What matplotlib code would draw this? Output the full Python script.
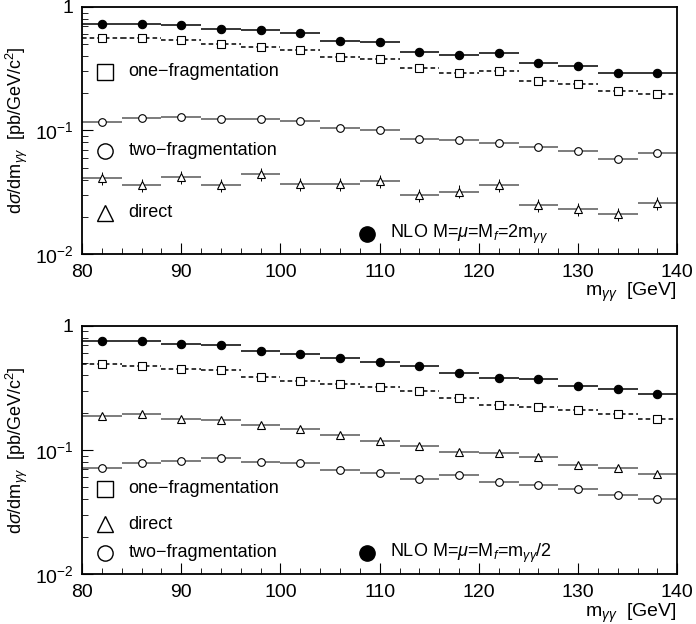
import numpy as np
import matplotlib.pyplot as plt
from matplotlib.ticker import FixedLocator, NullFormatter

plt.rcParams['font.family'] = ['Liberation Sans', 'DejaVu Sans']
plt.rcParams['mathtext.fontset'] = 'custom'
plt.rcParams['mathtext.rm'] = 'Liberation Sans'
plt.rcParams['mathtext.it'] = 'Liberation Sans:italic'

edges = np.arange(80, 141, 4)
centers = edges[:-1] + 2

# top panel: M = mu = M_f = 2 m_gg
top_nlo = [0.73, 0.73, 0.71, 0.66, 0.65, 0.61, 0.53, 0.52, 0.43, 0.41, 0.42, 0.35, 0.33, 0.29, 0.29]
top_one = [0.56, 0.56, 0.54, 0.50, 0.47, 0.45, 0.39, 0.38, 0.32, 0.29, 0.30, 0.25, 0.236, 0.21, 0.197]
top_two = [0.117, 0.127, 0.128, 0.124, 0.124, 0.119, 0.104, 0.101, 0.085, 0.084, 0.079, 0.074, 0.068, 0.059, 0.066]
top_dir = [0.041, 0.036, 0.042, 0.036, 0.044, 0.037, 0.037, 0.039, 0.030, 0.032, 0.036, 0.025, 0.023, 0.021, 0.026]

# bottom panel: M = mu = M_f = m_gg / 2
bot_nlo = [0.75, 0.75, 0.71, 0.70, 0.63, 0.59, 0.55, 0.51, 0.47, 0.42, 0.38, 0.37, 0.33, 0.31, 0.28]
bot_one = [0.49, 0.47, 0.45, 0.44, 0.39, 0.36, 0.34, 0.32, 0.30, 0.26, 0.23, 0.22, 0.21, 0.194, 0.178]
bot_dir = [0.189, 0.193, 0.178, 0.173, 0.158, 0.146, 0.133, 0.117, 0.108, 0.096, 0.094, 0.088, 0.075, 0.072, 0.064]
bot_two = [0.072, 0.079, 0.082, 0.086, 0.080, 0.079, 0.069, 0.065, 0.058, 0.063, 0.055, 0.052, 0.048, 0.043, 0.040]


def series(ax, vals, marker, mfc, ls, color, err):
    vals = np.asarray(vals)
    ax.hlines(vals, edges[:-1], edges[1:], colors=color, linestyles=ls, lw=1.1)
    ax.errorbar(centers, vals, yerr=vals * err, fmt='none', ecolor='black', elinewidth=0.7)
    ax.plot(centers, vals, marker, mfc=mfc, mec='black', ms=6 if marker == 'o' and mfc == 'black' else 5.5,
            mew=0.8, ls='none')


def legend_item(ax, x, y, marker, mfc, label):
    ax.plot([x], [y], marker, mfc=mfc, mec='black', ms=11, mew=1.0, transform=ax.transAxes, clip_on=False)
    ax.text(x + 0.040, y, label, transform=ax.transAxes, va='center', fontsize=13)


def style(ax):
    ax.set_yscale('log')
    ax.set_xlim(80, 140)
    ax.set_ylim(0.01, 1)
    ax.set_yticks([0.01, 0.1, 1])
    ax.set_yticklabels(['$10^{-2}$', '$10^{-1}$', '1'])
    ax.yaxis.set_minor_formatter(NullFormatter())
    ax.set_xticks([80, 90, 100, 110, 120, 130, 140])
    ax.xaxis.set_minor_locator(FixedLocator(np.arange(80, 141, 2)))
    ax.tick_params(axis='both', which='major', direction='in', length=8, labelsize=14, right=False, top=False)
    ax.tick_params(axis='x', which='major', pad=7)
    ax.tick_params(axis='y', which='major', pad=6)
    ax.tick_params(axis='both', which='minor', direction='in', length=4)
    for s in ax.spines.values():
        s.set_linewidth(1.3)
    ax.set_ylabel(r'd$\sigma$/dm$_{\gamma\gamma}$  [pb/GeV/c$^2$]', fontsize=13)
    ax.yaxis.set_label_coords(-0.088, 0.5, transform=ax.transAxes)
    ax.set_xlabel(r'm$_{\gamma\gamma}$  [GeV]', fontsize=14)
    ax.xaxis.set_label_coords(1.0, -0.11, transform=ax.transAxes)
    ax.xaxis.label.set_ha('right')
    ax.xaxis.label.set_va('top')


fig = plt.figure(figsize=(6.96, 6.24), dpi=100)
ax1 = fig.add_axes([0.118, 0.593, 0.855, 0.396])
ax2 = fig.add_axes([0.118, 0.080, 0.855, 0.398])

series(ax1, top_one, 's', 'white', (0, (3, 2)), 'black', 0.04)
series(ax1, top_two, 'o', 'white', '-', '0.35', 0.04)
series(ax1, top_dir, '^', 'white', '-', '0.35', 0.12)
series(ax1, top_nlo, 'o', 'black', '-', 'black', 0.0)
style(ax1)
legend_item(ax1, 0.038, 0.737, 's', 'white', 'one\u2212fragmentation')
legend_item(ax1, 0.038, 0.417, 'o', 'white', 'two\u2212fragmentation')
legend_item(ax1, 0.038, 0.166, '^', 'white', 'direct')
legend_item(ax1, 0.478, 0.080, 'o', 'black', r'NLO M=$\mu$=M$_f$=2m$_{\gamma\gamma}$')

series(ax2, bot_one, 's', 'white', (0, (3, 2)), 'black', 0.04)
series(ax2, bot_dir, '^', 'white', '-', '0.35', 0.03)
series(ax2, bot_two, 'o', 'white', '-', '0.35', 0.04)
series(ax2, bot_nlo, 'o', 'black', '-', 'black', 0.0)
style(ax2)
legend_item(ax2, 0.038, 0.343, 's', 'white', 'one\u2212fragmentation')
legend_item(ax2, 0.038, 0.200, '^', 'white', 'direct')
legend_item(ax2, 0.038, 0.085, 'o', 'white', 'two\u2212fragmentation')
legend_item(ax2, 0.478, 0.085, 'o', 'black', r'NLO M=$\mu$=M$_f$=m$_{\gamma\gamma}$/2')

fig.savefig('out.png', dpi=100)
